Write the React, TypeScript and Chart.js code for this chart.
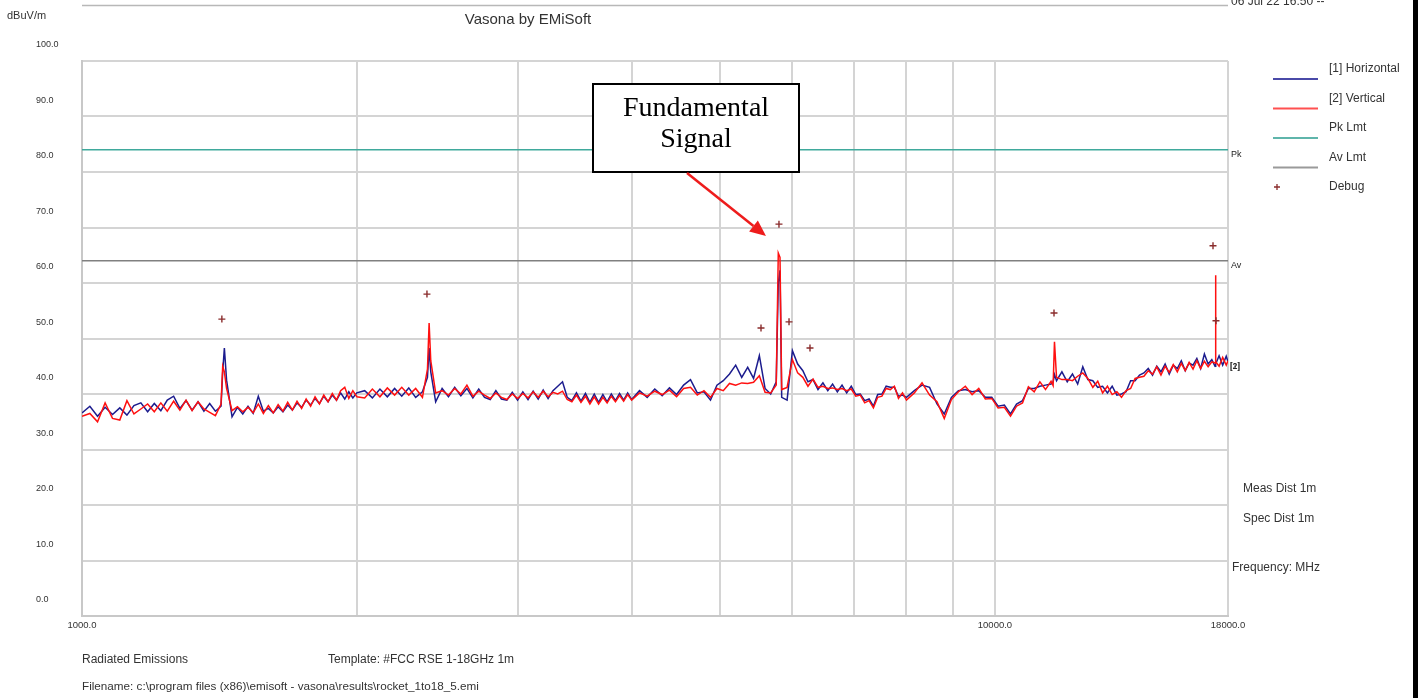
import React, { useEffect, useRef } from 'react';
import { Chart, registerables } from 'chart.js';

Chart.register(...registerables);

// ---- Data ----
const FREQ_MHZ = [
  1000, 1020, 1040, 1060, 1080, 1100, 1120, 1140, 1160, 1180, 1200, 1220, 1240, 1260, 1280, 1300, 1320, 1340, 1360, 1380, 1400, 1420,
  1426, 1432,
  1440, 1460, 1480, 1500, 1520, 1540, 1560, 1580, 1600, 1620, 1640, 1660, 1680, 1700, 1720, 1740, 1760, 1780, 1800, 1820, 1840, 1860, 1880, 1900, 1920, 1940, 1960, 1980, 2000,
  2040, 2080, 2120, 2160, 2200, 2240, 2280, 2320, 2360,
  2390, 2400, 2410,
  2440, 2480, 2520, 2560, 2600, 2640, 2680, 2720, 2760, 2800, 2840, 2880, 2920, 2960, 3000, 3040, 3080, 3120, 3160, 3200,
  3240, 3280, 3320, 3360, 3400, 3440, 3480, 3520, 3560, 3600, 3640, 3680, 3720, 3760, 3800, 3840, 3880, 3920, 3960, 4000,
  4080, 4160, 4240, 4320, 4400, 4480, 4560, 4640, 4720, 4800, 4880, 4960, 5040, 5120, 5200, 5280, 5360, 5440, 5520, 5600, 5680, 5760,
  5790, 5815,
  5840, 5920, 6000, 6080, 6160, 6240, 6320, 6400, 6480, 6560, 6640, 6720, 6800, 6880, 6960, 7040, 7120, 7200, 7280, 7360, 7440, 7520, 7600, 7680, 7760, 7840, 7920, 8000,
  8160, 8320, 8480, 8640, 8800, 8960, 9120, 9280, 9440, 9600, 9760, 9920, 10080, 10240, 10400, 10560, 10720, 10880, 11040, 11200, 11360, 11520,
  11580, 11620,
  11680, 11840, 12000, 12160, 12320, 12480, 12640, 12800, 12960, 13120, 13280, 13440, 13600, 13760, 13920, 14080, 14240, 14400,
  14560, 14720, 14880, 15040, 15200, 15360, 15520, 15680, 15840, 16000, 16160, 16320, 16480, 16640, 16800, 16960, 17120, 17280,
  17420, 17440, 17460,
  17600, 17760, 17920, 18000,
];

// [1] Horizontal (dBuV/m)
const HORIZONTAL = [
  36.6, 37.8, 36.0, 37.6, 36.3, 37.5, 36.2, 37.9, 38.4, 36.8, 38.3, 37.0, 38.9, 39.6, 37.4, 38.8, 37.1, 38.6, 36.9, 38.3, 36.9, 37.8,
  44.0, 48.3,
  42.5, 35.9, 37.6, 36.4, 37.8, 36.5, 39.6, 36.9, 37.4, 36.6, 37.7, 36.8, 38.0, 37.1, 38.4, 37.6, 38.9, 38.0, 39.2, 38.3, 39.6, 38.6, 39.8, 38.9, 40.2, 39.1, 40.4, 39.3, 40.2,
  40.6, 39.3, 40.9, 39.5, 41.0, 39.6, 41.1, 39.4, 40.4,
  43.0, 48.3, 44.0,
  38.6, 41.0, 39.5, 41.2, 39.7, 41.0, 39.3, 40.9, 39.4, 39.0, 40.6, 39.1, 38.9, 40.3, 38.9, 40.4, 39.0, 40.5, 39.1, 40.7,
  39.2, 40.6, 41.4, 42.2, 39.4, 38.8, 40.2, 38.7, 40.1, 38.5, 40.0, 38.5, 39.9, 38.6, 40.0, 38.8, 40.1, 38.9, 40.2, 39.0,
  40.6, 39.4, 40.9, 39.7, 41.1, 39.9, 41.6, 42.6, 40.2, 40.4, 38.9, 41.6, 42.4, 43.6, 45.2, 43.0, 44.8, 42.8, 46.9, 41.0, 40.0, 42.2,
  60.0, 62.3,
  39.4, 38.9, 47.8, 45.4, 44.2, 42.2, 42.6, 40.8, 42.0, 40.6, 41.8, 40.4, 41.6, 40.2, 41.4, 39.9, 40.0, 38.8, 39.1, 37.8, 39.9, 40.0, 41.4, 41.2, 41.2, 39.6, 39.8, 39.4,
  40.6, 41.6, 41.2, 38.2, 36.4, 39.4, 40.6, 40.8, 40.4, 40.6, 39.4, 39.4, 37.8, 38.0, 36.4, 38.2, 38.8, 41.0, 41.0, 41.4, 41.6, 41.8,
  42.2, 43.5,
  42.4, 44.0, 42.2, 43.6, 41.8, 44.9, 42.6, 42.4, 41.2, 41.4, 40.2, 41.4, 39.8, 40.0, 40.4, 42.4, 42.4, 43.4,
  43.8, 44.6, 43.4, 45.0, 44.0, 45.4, 43.6, 45.2, 44.6, 46.0, 44.2, 45.6, 45.2, 46.4, 44.6, 47.2, 45.4, 46.2,
  45.0, 46.0, 45.4,
  46.9, 45.2, 46.8, 45.8,
];

// [2] Vertical (dBuV/m)
const VERTICAL = [
  36.0, 36.5, 35.0, 38.4, 35.6, 35.3, 38.8, 36.4, 37.3, 38.2, 36.8, 38.4, 36.9, 38.7, 37.1, 38.9, 37.0, 38.6, 37.3, 36.7, 36.1, 38.2,
  45.0, 44.0,
  41.0, 37.0, 37.7, 36.8, 37.6, 36.6, 38.2, 36.5, 37.9, 36.6, 38.1, 36.9, 38.5, 37.1, 38.7, 37.4, 39.1, 37.8, 39.5, 38.2, 39.8, 38.6, 40.1, 38.9, 40.6, 41.2, 39.2, 40.6, 39.5,
  39.3, 40.9, 39.5, 41.1, 39.8, 41.2, 39.8, 41.0, 39.4,
  44.5, 52.8, 46.0,
  40.2, 40.6, 39.8, 41.0, 40.0, 41.6, 39.6, 40.5, 39.8, 39.2, 40.2, 39.4, 39.0, 40.0, 39.2, 40.1, 39.3, 40.4, 39.4, 40.5,
  39.5, 40.3, 40.0, 40.5, 39.0, 38.6, 39.8, 38.5, 39.6, 38.2, 39.5, 38.2, 39.4, 38.4, 39.6, 38.6, 39.7, 38.7, 39.9, 38.9,
  40.2, 39.6, 40.5, 39.9, 40.7, 39.5, 41.0, 41.2, 39.8, 40.6, 39.4, 41.0, 40.6, 41.9, 41.6, 42.0, 41.9, 42.1, 43.3, 40.3, 40.2, 41.6,
  65.4, 64.6,
  40.8, 41.2, 46.2, 43.8, 43.0, 41.4, 42.7, 41.2, 41.4, 41.0, 41.1, 40.8, 41.0, 40.6, 40.9, 39.6, 39.8, 38.4, 38.8, 37.5, 39.4, 39.6, 41.0, 40.8, 41.4, 39.2, 40.2, 38.9,
  40.2, 42.0, 39.8, 38.6, 35.6, 39.0, 40.4, 41.4, 39.9, 41.0, 39.1, 39.2, 37.5, 37.6, 36.0, 37.8, 38.4, 41.3, 40.4, 42.2, 40.8, 42.3,
  41.5, 49.4,
  43.0, 42.6, 42.6, 42.4, 43.2, 43.8, 42.8, 41.2, 42.3, 40.2, 41.4, 39.9, 40.4, 39.4, 40.6, 41.0, 42.8, 43.0,
  43.2, 44.2, 43.6, 44.9, 43.4, 45.0, 43.9, 45.3, 44.0, 45.5, 44.2, 45.7, 44.5, 46.0, 44.6, 45.9, 44.9, 45.8,
  45.6, 61.4, 45.8,
  45.0, 46.6, 45.2, 46.0,
];

const DEBUG_FREQ = [1423, 2387, 5543, 5800, 5949, 6272, 11606, 17332, 17463];
const DEBUG_LEVEL = [53.5, 58.0, 51.9, 70.6, 53.0, 48.3, 54.6, 66.7, 53.2];

const LIMIT_FREQ = [1000, 18000];
const PK_LIMIT = [84.0, 84.0];
const AV_LIMIT = [64.0, 64.0];

const X_GRID_TICKS = [1000, 2000, 3000, 4000, 5000, 6000, 7000, 8000, 9000, 10000, 18000];
const X_LABELED_TICKS = [1000, 10000, 18000];
const Y_MIN = 0;
const Y_MAX = 100;
const Y_STEP = 10;

const LEGEND_ITEMS = ['[1] Horizontal', '[2] Vertical', 'Pk Lmt', 'Av Lmt', 'Debug'];

// ---- Styles ----
const SANS = '"Liberation Sans", Arial, sans-serif';
const SERIF = '"Liberation Serif", "Times New Roman", serif';
const TEXT_COLOR = '#333333';
const BLUE = '#1c1c8e';
const RED = '#ff1010';
const TEAL = '#3fa99c';
const GREY = '#808080';
const DEBUG_COLOR = '#8a2c2c';
const GRID = '#d4d4d4';

function text(ctx: CanvasRenderingContext2D, s: string, x: number, y: number, size: number, align: CanvasTextAlign = 'left', color = TEXT_COLOR, family = SANS, baseline: CanvasTextBaseline = 'middle') {
  ctx.save();
  ctx.font = `${size}px ${family}`;
  ctx.fillStyle = color;
  ctx.textAlign = align;
  ctx.textBaseline = baseline;
  ctx.fillText(s, x, y);
  ctx.restore();
}

const overlayPlugin = {
  id: 'emiOverlay',
  beforeDraw(chart: any) {
    const ctx = chart.ctx as CanvasRenderingContext2D;
    ctx.save();
    ctx.fillStyle = '#ffffff';
    ctx.fillRect(0, 0, chart.width, chart.height);
    ctx.restore();
  },
  afterDraw(chart: any) {
    const ctx = chart.ctx as CanvasRenderingContext2D;
    const area = chart.chartArea;

    // top rule + clipped date
    ctx.save();
    ctx.strokeStyle = '#b8b8b8';
    ctx.lineWidth = 1.5;
    ctx.beginPath();
    ctx.moveTo(area.left, 5.5);
    ctx.lineTo(area.right, 5.5);
    ctx.stroke();
    ctx.restore();
    text(ctx, '06 Jul 22 16:50 --', area.right + 3, 5, 12, 'left', TEXT_COLOR, SANS, 'alphabetic');

    // header
    text(ctx, 'dBuV/m', 7, 16, 11);
    text(ctx, 'Vasona by EMiSoft', 528, 20, 15, 'center');

    // legend
    const legendColors = ['#4a4aa8', '#ff5050', '#5fb5ab', '#9a9a9a'];
    for (let i = 0; i < LEGEND_ITEMS.length; i++) {
      const ty = 69 + 29.5 * i;
      text(ctx, LEGEND_ITEMS[i], 1329, ty, 12);
      if (i < 4) {
        ctx.save();
        ctx.strokeStyle = legendColors[i];
        ctx.lineWidth = 2;
        ctx.beginPath();
        ctx.moveTo(1273, ty + 10);
        ctx.lineTo(1318, ty + 10);
        ctx.stroke();
        ctx.restore();
      } else {
        ctx.save();
        ctx.strokeStyle = DEBUG_COLOR;
        ctx.lineWidth = 1.3;
        ctx.beginPath();
        ctx.moveTo(1274, ty); ctx.lineTo(1280, ty);
        ctx.moveTo(1277, ty - 3); ctx.lineTo(1277, ty + 3);
        ctx.stroke();
        ctx.restore();
      }
    }

    // right-of-plot labels
    const yScale = chart.scales.y;
    text(ctx, 'Pk', area.right + 3, yScale.getPixelForValue(PK_LIMIT[1]) + 5, 9, 'left', '#222');
    text(ctx, 'Av', area.right + 3, yScale.getPixelForValue(AV_LIMIT[1]) + 5, 9, 'left', '#222');
    text(ctx, '[1]', area.right + 2, 367, 9, 'left', '#222');
    text(ctx, '[2]', area.right + 2, 367, 9, 'left', '#222');
    text(ctx, 'Meas Dist 1m', 1243, 489, 12);
    text(ctx, 'Spec Dist 1m', 1243, 519, 12);
    text(ctx, 'Frequency: MHz', 1232, 568, 12);

    // footer
    text(ctx, 'Radiated Emissions', 82, 660, 12);
    text(ctx, 'Template: #FCC RSE 1-18GHz 1m', 328, 660, 12);
    text(ctx, 'Filename: c:\\program files (x86)\\emisoft - vasona\\results\\rocket_1to18_5.emi', 82, 687, 11.7);

    // annotation box
    ctx.save();
    ctx.fillStyle = '#ffffff';
    ctx.fillRect(593, 84, 206, 88);
    ctx.strokeStyle = '#000000';
    ctx.lineWidth = 2;
    ctx.strokeRect(593, 84, 206, 88);
    ctx.restore();
    text(ctx, 'Fundamental', 696, 109, 28, 'center', '#000', SERIF);
    text(ctx, 'Signal', 696, 140, 28, 'center', '#000', SERIF);

    // arrow
    const x0 = 687, y0 = 173, x1 = 766, y1 = 236;
    const ang = Math.atan2(y1 - y0, x1 - x0);
    const hl = 16, hw = 7;
    const bx = x1 - hl * Math.cos(ang), by = y1 - hl * Math.sin(ang);
    ctx.save();
    ctx.strokeStyle = '#ee1c1c';
    ctx.fillStyle = '#ee1c1c';
    ctx.lineWidth = 2.5;
    ctx.beginPath();
    ctx.moveTo(x0, y0);
    ctx.lineTo(bx, by);
    ctx.stroke();
    ctx.beginPath();
    ctx.moveTo(x1, y1);
    ctx.lineTo(bx + hw * Math.sin(ang), by - hw * Math.cos(ang));
    ctx.lineTo(bx - hw * Math.sin(ang), by + hw * Math.cos(ang));
    ctx.closePath();
    ctx.fill();
    ctx.restore();

    // dark right edge
    ctx.save();
    ctx.fillStyle = '#000000';
    ctx.fillRect(1413, 0, 5, chart.height);
    ctx.restore();
  },
};

export default function App() {
  const canvasRef = useRef<HTMLCanvasElement | null>(null);

  useEffect(() => {
    document.body.style.margin = '0';
    const canvas = canvasRef.current;
    if (!canvas) return;

    const toPoints = (xs: number[], ys: number[]) => xs.map((x, i) => ({ x, y: ys[i] }));

    const chart = new Chart(canvas, {
      type: 'line',
      data: {
        datasets: [
          {
            label: 'Debug',
            data: toPoints(DEBUG_FREQ, DEBUG_LEVEL),
            showLine: false,
            pointStyle: 'cross',
            pointRadius: 3.5,
            pointBorderWidth: 1.4,
            borderColor: DEBUG_COLOR,
            backgroundColor: DEBUG_COLOR,
            order: 0,
          },
          {
            label: '[2] Vertical',
            data: toPoints(FREQ_MHZ, VERTICAL),
            borderColor: RED,
            borderWidth: 1.5,
            pointRadius: 0,
            order: 1,
          },
          {
            label: '[1] Horizontal',
            data: toPoints(FREQ_MHZ, HORIZONTAL),
            borderColor: BLUE,
            borderWidth: 1.5,
            pointRadius: 0,
            order: 2,
          },
          {
            label: 'Pk Lmt',
            data: toPoints(LIMIT_FREQ, PK_LIMIT),
            borderColor: TEAL,
            borderWidth: 1.5,
            pointRadius: 0,
            order: 3,
          },
          {
            label: 'Av Lmt',
            data: toPoints(LIMIT_FREQ, AV_LIMIT),
            borderColor: GREY,
            borderWidth: 1.5,
            pointRadius: 0,
            order: 3,
          },
        ],
      },
      options: {
        responsive: false,
        animation: false,
        events: [],
        layout: { padding: { left: 36, top: 61, right: 190, bottom: 0 } },
        elements: { line: { tension: 0 } },
        plugins: { legend: { display: false }, tooltip: { enabled: false }, title: { display: false } },
        scales: {
          x: {
            type: 'logarithmic',
            min: 1000,
            max: 18000,
            afterBuildTicks: (scale: any) => {
              scale.ticks = X_GRID_TICKS.map((v) => ({ value: v }));
            },
            afterFit: (scale: any) => {
              scale.height = 82;
            },
            ticks: {
              autoSkip: false,
              maxRotation: 0,
              minRotation: 0,
              padding: 4,
              color: TEXT_COLOR,
              font: { family: SANS, size: 9.5 },
              callback: (value: any) => (X_LABELED_TICKS.includes(Number(value)) ? Number(value).toFixed(1) : ''),
            },
            grid: { color: GRID, lineWidth: 2, drawTicks: false },
            border: { display: true, color: '#c8c8c8', width: 2 },
          },
          y: {
            type: 'linear',
            min: Y_MIN,
            max: Y_MAX,
            afterFit: (scale: any) => {
              scale.width = 46;
            },
            ticks: {
              stepSize: Y_STEP,
              crossAlign: 'far',
              labelOffset: -16,
              color: TEXT_COLOR,
              font: { family: SANS, size: 9 },
              callback: (value: any) => Number(value).toFixed(1),
            },
            grid: { color: GRID, lineWidth: 2, drawTicks: false },
            border: { display: true, color: '#c8c8c8', width: 2 },
          },
        },
      },
      plugins: [overlayPlugin],
    } as any);

    return () => {
      chart.destroy();
    };
  }, []);

  return (
    <div style={{ position: 'absolute', left: 0, top: 0, width: 1418, height: 698 }}>
      <canvas ref={canvasRef} width={1418} height={698} style={{ width: 1418, height: 698, display: 'block' }} />
    </div>
  );
}
